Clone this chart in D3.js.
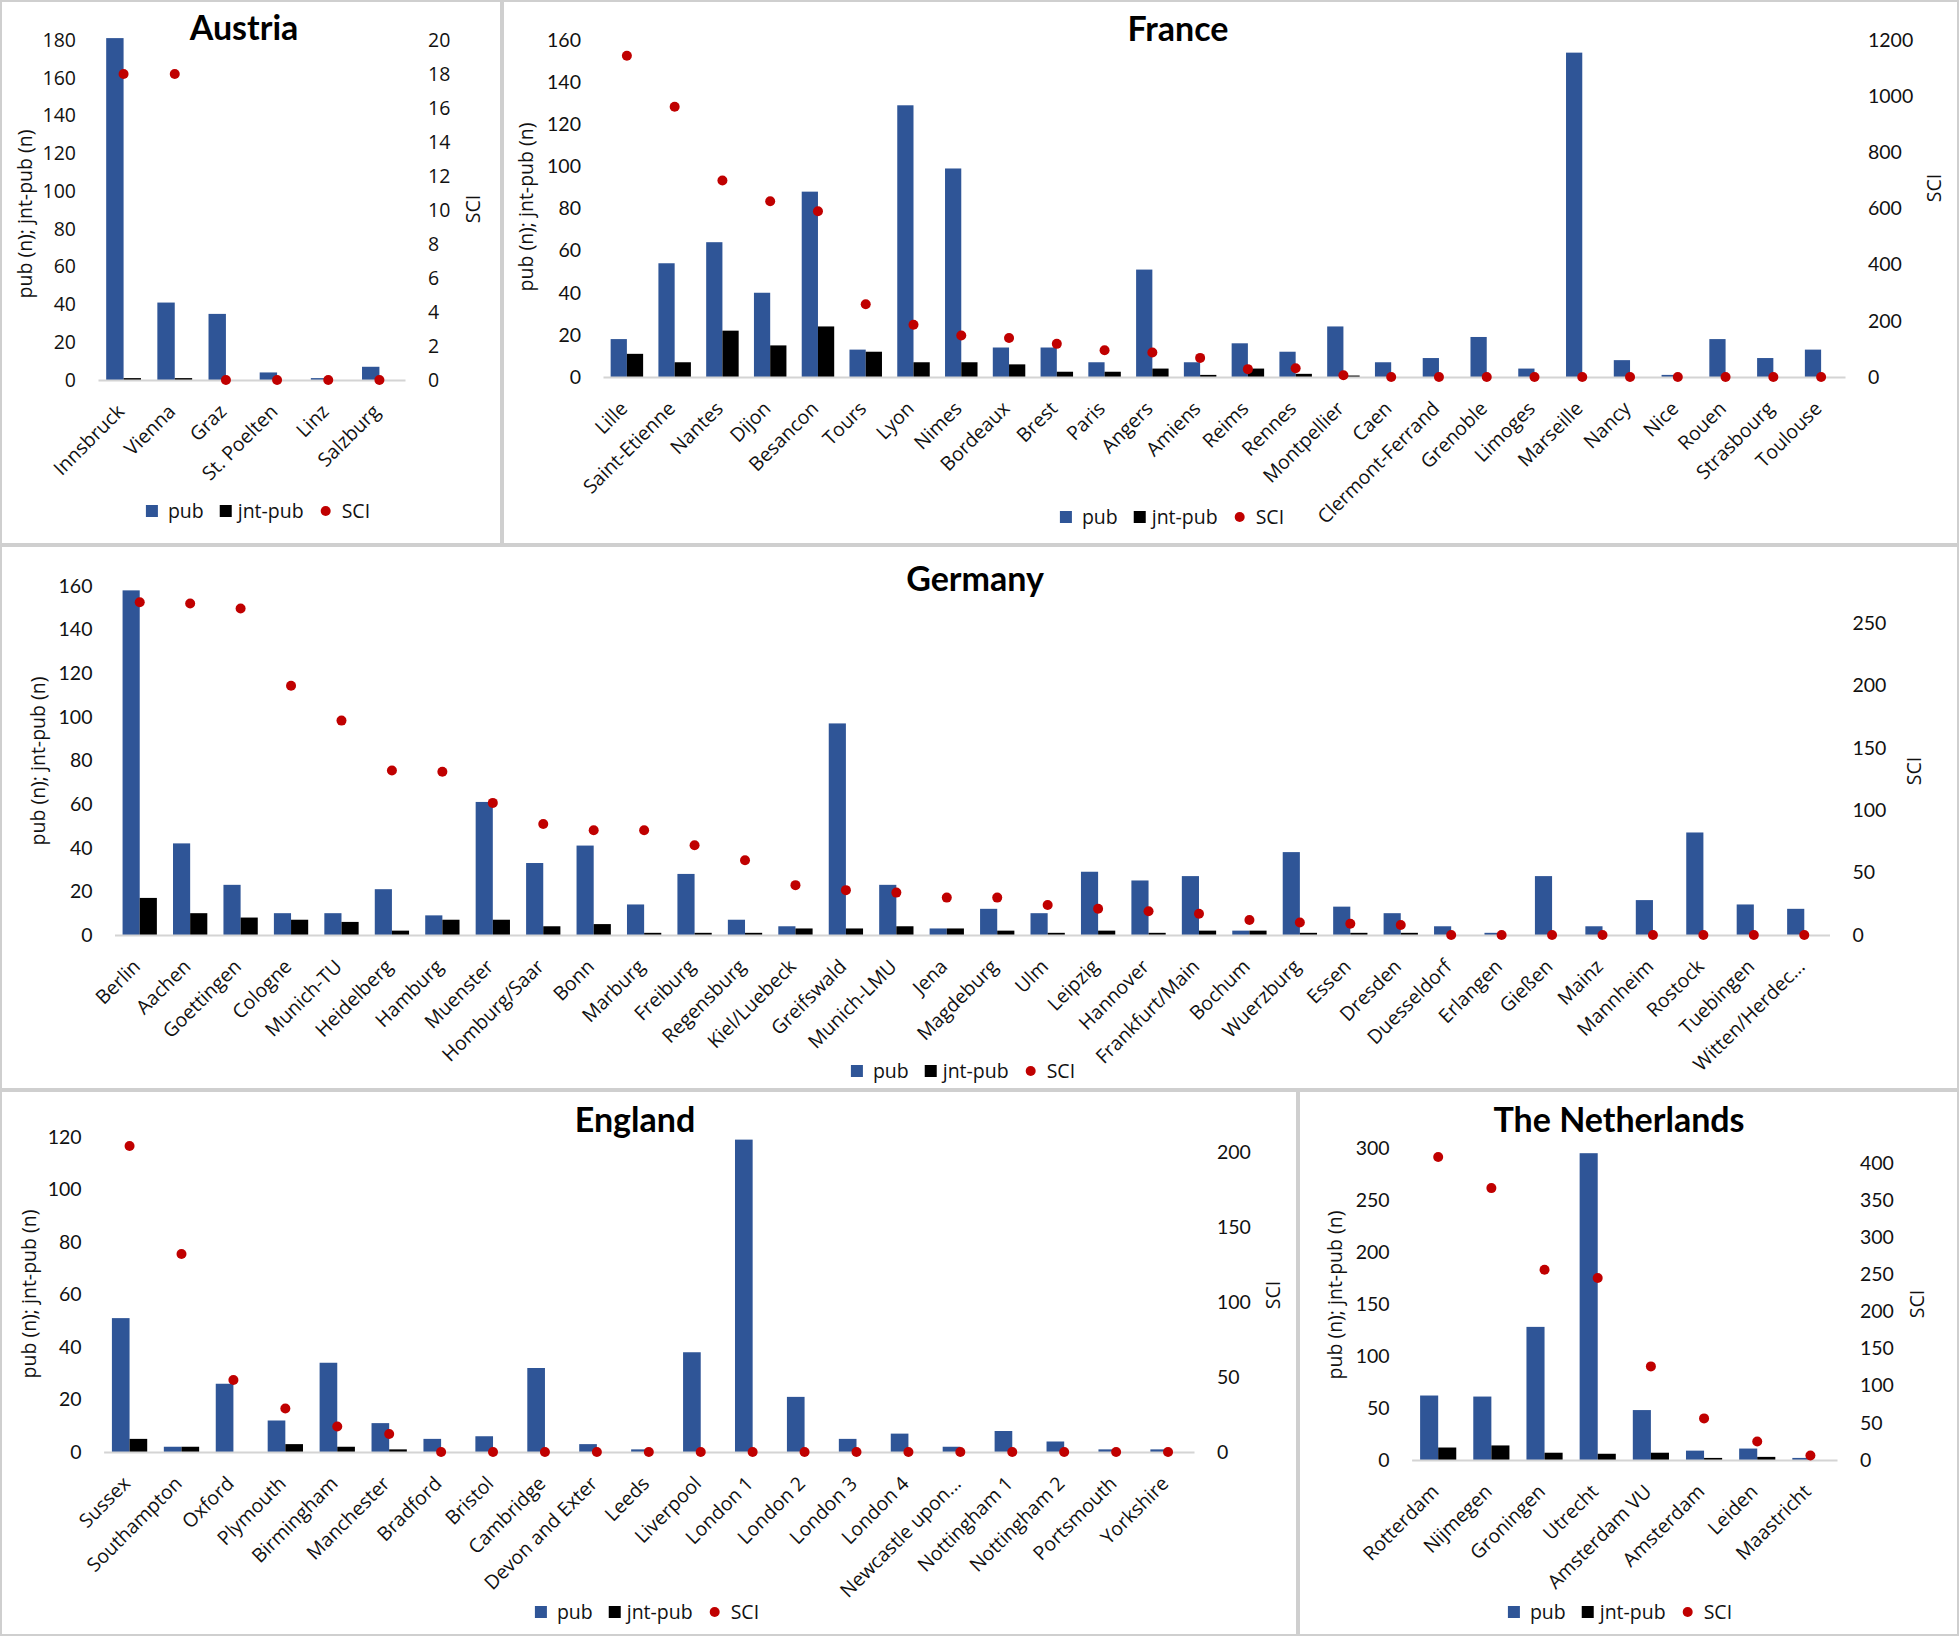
<!DOCTYPE html>
<html><head><meta charset="utf-8">
<script src="https://cdn.jsdelivr.net/npm/d3@7"></script>
<style>
html,body{margin:0;padding:0;background:#fff;}
svg{display:block;}
</style></head>
<body>
<svg id="chart" width="1959" height="1636"></svg>
<script>
// ---------------- DATA ----------------
const seriesNames = ["pub", "jnt-pub", "SCI"];
const leftAxisTitle = "pub (n); jnt-pub (n)";
const rightAxisTitle = "SCI";

const austriaCities = ["Innsbruck","Vienna","Graz","St. Poelten","Linz","Salzburg"];
const austriaPub = [181, 41, 35, 4, 1, 7];
const austriaJnt = [1, 1, 0, 0, 0, 0];
const austriaSci = [18, 18, 0, 0, 0, 0];
const austriaLeftTicks = [0,20,40,60,80,100,120,140,160,180];
const austriaRightTicks = [0,2,4,6,8,10,12,14,16,18,20];

const franceCities = ["Lille","Saint-Etienne","Nantes","Dijon","Besancon","Tours","Lyon","Nimes","Bordeaux","Brest","Paris","Angers","Amiens","Reims","Rennes","Montpellier","Caen","Clermont-Ferrand","Grenoble","Limoges","Marseille","Nancy","Nice","Rouen","Strasbourg","Toulouse"];
const francePub = [18, 54, 64, 40, 88, 13, 129, 99, 14, 14, 7, 51, 7, 16, 12, 24, 7, 9, 19, 4, 154, 8, 1, 18, 9, 13];
const franceJnt = [11, 7, 22, 15, 24, 12, 7, 7, 6, 2.5, 2.5, 4, 1, 4, 1.5, 0.7, 0, 0, 0, 0, 0, 0, 0, 0, 0, 0];
const franceSci = [1144, 962, 700, 626, 590, 259, 186, 148, 139, 118, 95, 87, 68, 28, 31, 6, 0, 0, 0, 0, 0, 0, 0, 0, 0, 0];
const franceLeftTicks = [0,20,40,60,80,100,120,140,160];
const franceRightTicks = [0,200,400,600,800,1000,1200];

const germanyCities = ["Berlin","Aachen","Goettingen","Cologne","Munich-TU","Heidelberg","Hamburg","Muenster","Homburg/Saar","Bonn","Marburg","Freiburg","Regensburg","Kiel/Luebeck","Greifswald","Munich-LMU","Jena","Magdeburg","Ulm","Leipzig","Hannover","Frankfurt/Main","Bochum","Wuerzburg","Essen","Dresden","Duesseldorf","Erlangen","Gießen","Mainz","Mannheim","Rostock","Tuebingen","Witten/Herdec..."];
const germanyPub = [158, 42, 23, 10, 10, 21, 9, 61, 33, 41, 14, 28, 7, 4, 97, 23, 3, 12, 10, 29, 25, 27, 2, 38, 13, 10, 4, 1, 27, 4, 16, 47, 14, 12];
const germanyJnt = [17, 10, 8, 7, 6, 2, 7, 7, 4, 5, 1, 1, 1, 3, 3, 4, 3, 2, 1, 2, 1, 2, 2, 1, 1, 1, 0, 0, 0, 0, 0, 0, 0, 0];
const germanySci = [267, 266, 262, 200, 172, 132, 131, 106, 89, 84, 84, 72, 60, 40, 36, 34, 30, 30, 24, 21, 19, 17, 12, 10, 9, 8, 0, 0, 0, 0, 0, 0, 0, 0];
const germanyLeftTicks = [0,20,40,60,80,100,120,140,160];
const germanyRightTicks = [0,50,100,150,200,250];

const englandCities = ["Sussex","Southampton","Oxford","Plymouth","Birmingham","Manchester","Bradford","Bristol","Cambridge","Devon and Exter","Leeds","Liverpool","London 1","London 2","London 3","London 4","Newcastle upon...","Nottingham 1","Nottingham 2","Portsmouth","Yorkshire"];
const englandPub = [51, 2, 26, 12, 34, 11, 5, 6, 32, 3, 1, 38, 119, 21, 5, 7, 2, 8, 4, 1, 1];
const englandJnt = [5, 2, 0, 3, 2, 1, 0, 0, 0, 0, 0, 0, 0, 0, 0, 0, 0, 0, 0, 0, 0];
const englandSci = [204, 132, 48, 29, 17, 12, 0, 0, 0, 0, 0, 0, 0, 0, 0, 0, 0, 0, 0, 0, 0];
const englandLeftTicks = [0,20,40,60,80,100,120];
const englandRightTicks = [0,50,100,150,200];

const nlCities = ["Rotterdam","Nijmegen","Groningen","Utrecht","Amsterdam VU","Amsterdam","Leiden","Maastricht"];
const nlPub = [62, 61, 128, 295, 48, 9, 11, 2];
const nlJnt = [12, 14, 7, 6, 7, 2, 3, 0];
const nlSci = [408, 366, 256, 245, 126, 56, 25, 6];
const nlLeftTicks = [0,50,100,150,200,250,300];
const nlRightTicks = [0,50,100,150,200,250,300,350,400];

// ---------------- STYLE / LAYOUT ----------------
const BLUE = "#2F5597", RED = "#C00000", BLACK = "#000000";
const TXT = "#111111";
const SEGOE = "'Open Sans', 'DejaVu Sans', sans-serif";
const CALIBRI = "Lato, 'Open Sans', sans-serif";

const panels = [
  {title:"Austria", cities:austriaCities, pub:austriaPub, jnt:austriaJnt, sci:austriaSci,
   leftMax:180, leftTicks:austriaLeftTicks, rightMax:20, rightTicks:austriaRightTicks,
   x0:98, x1:405, yTop:40, yBot:380, tickFont:SEGOE, tickSize:19.5,
   titleX:244, titleY:28, lt:[25,214], rt:[473,209], legX:258, legY:511,
   border:[0,0,502,545]},
  {title:"France", cities:franceCities, pub:francePub, jnt:franceJnt, sci:franceSci,
   leftMax:160, leftTicks:franceLeftTicks, rightMax:1200, rightTicks:franceRightTicks,
   x0:603, x1:1845, yTop:40, yBot:377, tickFont:CALIBRI, tickSize:19.5,
   titleX:1178, titleY:29, lt:[526,207], rt:[1934,188], legX:1172, legY:517,
   border:[502,0,1457,545]},
  {title:"Germany", cities:germanyCities, pub:germanyPub, jnt:germanyJnt, sci:germanySci,
   leftMax:160, leftTicks:germanyLeftTicks, rightMax:280, rightTicks:germanyRightTicks,
   x0:114.5, x1:1829.5, yTop:586, yBot:935, tickFont:CALIBRI, tickSize:19.5,
   titleX:975, titleY:579, lt:[38,761], rt:[1914,771], legX:963, legY:1071,
   border:[0,545,1959,545]},
  {title:"England", cities:englandCities, pub:englandPub, jnt:englandJnt, sci:englandSci,
   leftMax:120, leftTicks:englandLeftTicks, rightMax:210, rightTicks:englandRightTicks,
   x0:103.6, x1:1194, yTop:1137, yBot:1452, tickFont:CALIBRI, tickSize:19.5,
   titleX:635, titleY:1120, lt:[29,1294], rt:[1273,1295], legX:647, legY:1612,
   border:[0,1090,1298,546]},
  {title:"The Netherlands", cities:nlCities, pub:nlPub, jnt:nlJnt, sci:nlSci,
   leftMax:300, leftTicks:nlLeftTicks, rightMax:420, rightTicks:nlRightTicks,
   x0:1411.6, x1:1837, yTop:1148, yBot:1460, tickFont:CALIBRI, tickSize:19.5,
   titleX:1619, titleY:1120, lt:[1335,1295], rt:[1917,1304], legX:1620, legY:1612,
   border:[1298,1090,661,546]}
];

// ---------------- DRAW ----------------
const svg = d3.select("#chart");
svg.append("rect").attr("width",1959).attr("height",1636).attr("fill","#fff");
const fmt = d3.format("d");

panels.forEach(p => {
  const g = svg.append("g");
  const x = d3.scaleBand().domain(p.cities).range([p.x0, p.x1]).paddingInner(0).paddingOuter(0);
  const yL = d3.scaleLinear().domain([0, p.leftMax]).range([p.yBot, p.yTop]);
  const yR = d3.scaleLinear().domain([0, p.rightMax]).range([p.yBot, p.yTop]);
  const step = x.step();
  const bw = step * 0.34;
  const rows = p.cities.map((c,i) => ({city:c, pub:p.pub[i], jnt:p.jnt[i], sci:p.sci[i]}));

  // pub bars
  g.append("g").selectAll("rect").data(rows).join("rect")
    .attr("x", d => x(d.city) + step/2 - bw).attr("width", bw)
    .attr("y", d => yL(d.pub)).attr("height", d => p.yBot - yL(d.pub))
    .attr("fill", BLUE);
  // jnt-pub bars
  g.append("g").selectAll("rect").data(rows).join("rect")
    .attr("x", d => x(d.city) + step/2).attr("width", bw)
    .attr("y", d => yL(d.jnt)).attr("height", d => p.yBot - yL(d.jnt))
    .attr("fill", BLACK);

  // category axis
  const xa = g.append("g").attr("transform", `translate(0,${p.yBot})`)
    .call(d3.axisBottom(x).tickSize(0).tickSizeOuter(0));
  xa.select(".domain").attr("stroke", "#d4d4d4").attr("stroke-width", 2);
  xa.selectAll(".tick text")
    .attr("font-family", SEGOE).attr("font-size", 19.5).attr("fill", TXT)
    .attr("text-anchor", "end").attr("y", 0).attr("x", 0).attr("dy", "0.35em")
    .attr("transform", "translate(-3,28) rotate(-45)");

  // left axis
  const la = g.append("g").attr("transform", `translate(${p.x0},0)`)
    .call(d3.axisLeft(yL).tickValues(p.leftTicks).tickFormat(fmt).tickSize(0).tickPadding(22));
  la.select(".domain").remove();
  la.selectAll(".tick text").attr("font-family", p.tickFont).attr("font-size", p.tickSize).attr("fill", TXT);

  // right axis
  const ra = g.append("g").attr("transform", `translate(${p.x1},0)`)
    .call(d3.axisRight(yR).tickValues(p.rightTicks).tickFormat(fmt).tickSize(0).tickPadding(23));
  ra.select(".domain").remove();
  ra.selectAll(".tick text").attr("font-family", p.tickFont).attr("font-size", p.tickSize).attr("fill", TXT);

  // SCI dots
  g.append("g").selectAll("circle").data(rows).join("circle")
    .attr("cx", d => x(d.city) + step/2).attr("cy", d => yR(d.sci)).attr("r", 5)
    .attr("fill", RED);

  // axis titles
  g.append("text").attr("transform", `translate(${p.lt[0]},${p.lt[1]}) rotate(-90)`)
    .attr("text-anchor","middle").attr("dy","0.35em")
    .attr("font-family", SEGOE).attr("font-size", 19.5).attr("fill", TXT).text(leftAxisTitle);
  g.append("text").attr("transform", `translate(${p.rt[0]},${p.rt[1]}) rotate(-90)`)
    .attr("text-anchor","middle").attr("dy","0.35em")
    .attr("font-family", SEGOE).attr("font-size", 19.5).attr("fill", TXT).text(rightAxisTitle);

  // title
  g.append("text").attr("x", p.titleX).attr("y", p.titleY).attr("dy", "0.36em")
    .attr("text-anchor","middle").attr("font-family", CALIBRI).attr("font-weight", "bold")
    .attr("font-size", 34).attr("fill", "#000").text(p.title);

  // legend
  const lg = g.append("g");
  let cx = 0;
  const colors = [BLUE, BLACK, RED];
  seriesNames.forEach((name, i) => {
    if (i < 2) {
      lg.append("rect").attr("x", cx).attr("y", -6).attr("width", 12).attr("height", 12).attr("fill", colors[i]);
    } else {
      lg.append("circle").attr("cx", cx + 6).attr("cy", 0).attr("r", 5).attr("fill", colors[i]);
    }
    const t = lg.append("text").attr("x", cx + 12 + (i===1 ? 6 : 10)).attr("y", 0).attr("dy", "0.35em")
      .attr("font-family", SEGOE).attr("font-size", 19.5).attr("fill", TXT).text(name);
    const w = t.node().getComputedTextLength();
    cx = cx + 12 + (i===1 ? 6 : 10) + w + 16;
  });
  const total = cx - 16;
  lg.attr("transform", `translate(${p.legX - total/2},${p.legY})`);

  // panel border
  const b = p.border;
  svg.append("rect").attr("x", b[0]+1).attr("y", b[1]+1).attr("width", b[2]-2).attr("height", b[3]-2)
    .attr("fill", "none").attr("stroke", "#cfcfcf").attr("stroke-width", 2);
});
</script>
</body></html>
